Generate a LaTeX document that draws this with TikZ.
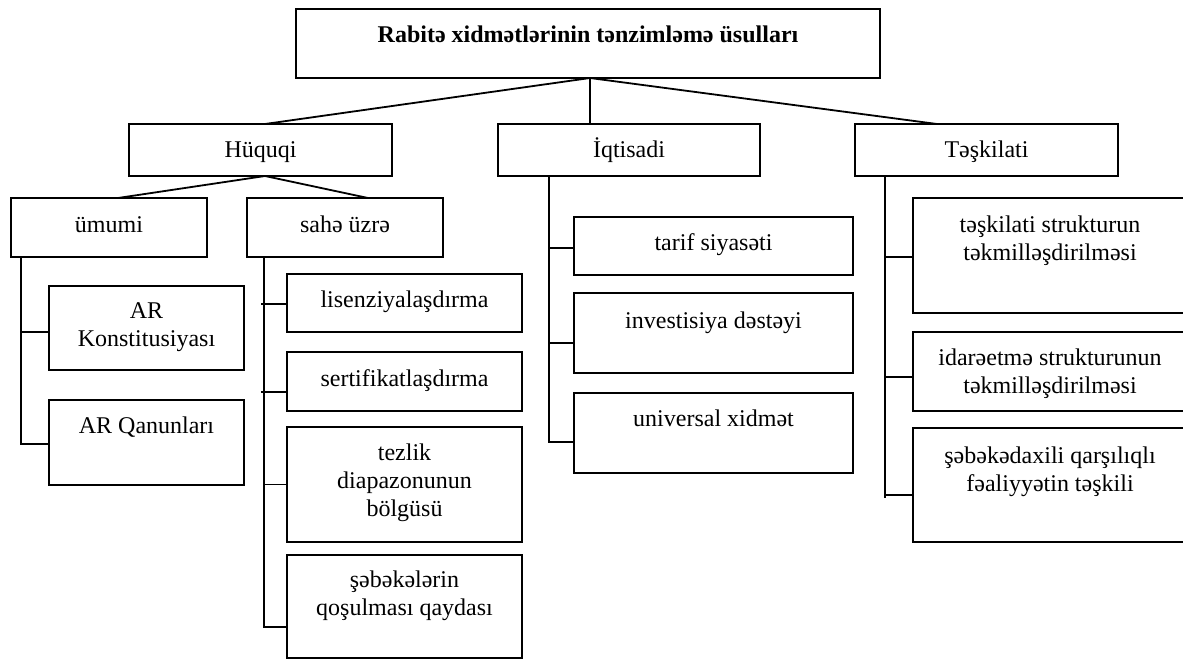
\documentclass[tikz,border=0pt]{standalone}
\usepackage{fontspec}
\setmainfont{Liberation Serif}
\usetikzlibrary{calc}
\tikzset{
  box/.style={draw, line width=0.9pt, inner sep=0pt, outer sep=0pt},
  txt/.style={inner sep=0pt, outer sep=0pt, align=center, anchor=north, font=\fontsize{12pt}{14pt}\selectfont},
  conn/.style={line width=0.9pt},
}
% box: name, x1, y1, x2, y2 (pixel units, y downwards)
\newcommand\bx[5]{\node[box, minimum width={(#4-#2)*0.5pt}, minimum height={(#5-#3)*0.5pt}] (#1) at ({(#2+#4)/2},{(#3+#5)/2}) {};}
% text: name, centre x, first baseline y, text
\newcommand\tx[4]{\node[txt] (#1) at (#2,{#3-19.6}) {#4};}
\begin{document}
\begin{tikzpicture}[x=0.5pt,y=-0.5pt]
\useasboundingbox (0,0) rectangle (1183,659);
\clip (0,0) rectangle (1183,659);
\fill[white] (0,0) rectangle (1183,659);

% boxes
\bx{top}{296}{9}{880}{78}
\bx{hq}{129}{124}{392}{176}
\bx{iq}{498}{124}{760}{176}
\bx{tk}{855}{124}{1118}{176}
\bx{um}{11}{198}{207}{257}
\bx{sz}{247}{198}{443}{257}
\bx{ark}{49}{286}{244}{370}
\bx{arq}{49}{400}{244}{485}
\bx{lis}{287}{274}{522}{332}
\bx{ser}{287}{352}{522}{411}
\bx{tez}{287}{427}{522}{542}
\bx{seb}{287}{555}{522}{658}
\bx{tar}{574}{217}{853}{275}
\bx{inv}{574}{293}{853}{373}
\bx{uni}{574}{393}{853}{473}
\bx{ts}{913}{198}{1187}{313}
\bx{id}{913}{332}{1187}{411}
\bx{sd}{913}{428}{1187}{542}

% texts
\tx{top-t}{588}{42}{\textbf{\strut Rabitə xidmətlərinin tənzimləmə üsulları}}
\tx{hq-t}{260.5}{157}{\strut Hüquqi}
\tx{iq-t}{629}{157}{\strut İqtisadi}
\tx{tk-t}{986.5}{157}{\strut Təşkilati}
\tx{um-t}{109}{232}{\strut ümumi}
\tx{sz-t}{345}{232}{\strut sahə üzrə}
\tx{ark-t}{146.5}{318}{\strut AR\\\strut Konstitusiyası}
\tx{arq-t}{146.5}{433}{\strut AR Qanunları}
\tx{lis-t}{404.5}{307}{\strut lisenziyalaşdırma}
\tx{ser-t}{404.5}{386}{\strut sertifikatlaşdırma}
\tx{tez-t}{404.5}{460}{\strut tezlik\\\strut diapazonunun\\\strut bölgüsü}
\tx{seb-t}{404.5}{587}{\strut şəbəkələrin\\\strut qoşulması qaydası}
\tx{tar-t}{713.5}{250}{\strut tarif siyasəti}
\tx{inv-t}{713.5}{328}{\strut investisiya dəstəyi}
\tx{uni-t}{713.5}{426}{\strut universal xidmət}
\tx{ts-t}{1050}{232}{\strut təşkilati strukturun\\\strut təkmilləşdirilməsi}
\tx{id-t}{1050}{365}{\strut idarəetmə strukturunun\\\strut təkmilləşdirilməsi}
\tx{sd-t}{1050}{463}{\strut şəbəkədaxili qarşılıqlı\\\strut fəaliyyətin təşkili}

% top level connectors
\coordinate (tp) at ([xshift=1pt]top.south);
\draw[conn] (tp) -- ([xshift=2.25pt]hq.north);
\draw[conn] (tp) -- (tp |- iq.north);
\draw[conn] (tp) -- ([xshift=-24.75pt]tk.north);

% Huquqi to its children
\coordinate (hp) at ([xshift=2.25pt]hq.south);
\draw[conn] (hp) -- ([xshift=4.5pt]um.north);
\draw[conn] (hp) -- ([xshift=11.5pt]sz.north);

% umumi trunk
\coordinate (ut) at ([xshift=5pt]um.south west);
\coordinate (ark-b) at ([yshift=-2pt]ark.west);
\coordinate (arq-b) at ([yshift=-0.75pt]arq.west);
\draw[conn] (ut) -- (ut |- arq-b) -- (arq-b);
\draw[conn] (ut |- ark-b) -- (ark-b);

% sahe uzre trunk
\coordinate (st) at ([xshift=8.5pt]sz.south west);
\coordinate (stl) at ([xshift=-1.5pt]st);
\coordinate (lis-b) at ([yshift=-0.5pt]lis.west);
\coordinate (ser-b) at ([yshift=-5.25pt]ser.west);
\coordinate (tez-b) at (tez.west);
\coordinate (seb-b) at ([yshift=-10.25pt]seb.west);
\draw[conn] (st) -- (st |- seb-b) -- (seb-b);
\draw[conn] (stl |- lis-b) -- (lis-b);
\draw[conn] (stl |- ser-b) -- (ser-b);
\draw[conn] (st |- tez-b) -- (tez-b);

% Iqtisadi trunk
\coordinate (it) at ([xshift=25.5pt]iq.south west);
\coordinate (tar-b) at ([yshift=-1pt]tar.west);
\coordinate (inv-b) at ([yshift=-5pt]inv.west);
\coordinate (uni-b) at ([yshift=-4.5pt]uni.west);
\draw[conn] (it) -- (it |- uni-b) -- (uni-b);
\draw[conn] (it |- tar-b) -- (tar-b);
\draw[conn] (it |- inv-b) -- (inv-b);

% Teskilati trunk
\coordinate (kt) at ([xshift=15pt]tk.south west);
\coordinate (ts-b) at ([yshift=-0.75pt]ts.west);
\coordinate (id-b) at ([yshift=-2.75pt]id.west);
\coordinate (sd-b) at ([yshift=-5pt]sd.west);
\coordinate (kt-end) at ([yshift=-1.5pt]kt |- sd-b);
\draw[conn] (kt) -- (kt-end);
\draw[conn] (kt |- ts-b) -- (ts-b);
\draw[conn] (kt |- id-b) -- (id-b);
\draw[conn] (kt |- sd-b) -- (sd-b);
\end{tikzpicture}
\end{document}
